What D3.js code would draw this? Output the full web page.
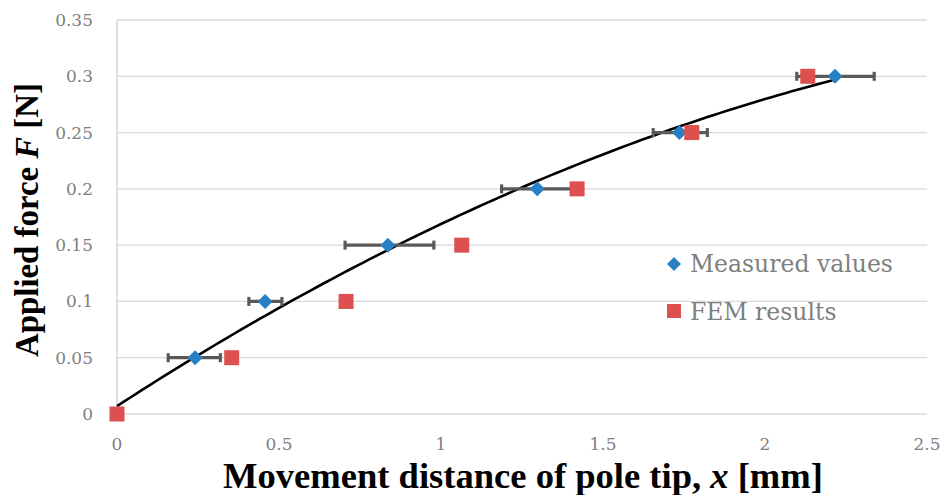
<!DOCTYPE html>
<html><head><meta charset="utf-8">
<script src="https://cdn.jsdelivr.net/npm/d3@7"></script>
<style>body{margin:0;background:#fff}svg{display:block}</style>
</head><body>
<svg id="c" width="943" height="495"></svg>
<script>
// ---- data ----
const measuredX = [0.241, 0.457, 0.836, 1.297, 1.736, 2.216];
const measuredY = [0.05, 0.10, 0.15, 0.20, 0.25, 0.30];
const errLow    = [0.158, 0.407, 0.704, 1.187, 1.655, 2.098];
const errHigh   = [0.319, 0.509, 0.978, 1.407, 1.822, 2.337];
const femX = [0, 0.354, 0.707, 1.064, 1.420, 1.774, 2.132];
const femY = [0, 0.05, 0.10, 0.15, 0.20, 0.25, 0.30];
const trendCoef = [0.007, 0.1871, -0.02536]; // polynomial trendline (order 2)
const xTicks = [0, 0.5, 1, 1.5, 2, 2.5];
const yTicks = [0, 0.05, 0.1, 0.15, 0.2, 0.25, 0.3, 0.35];
const legendLabels = ["Measured values", "FEM results"];

(function () {
const svg = d3.select("#c");
const mL = 117, mR = 927, mT = 20, mB = 414;
const x = d3.scaleLinear().domain([0, 2.5]).range([mL, mR]);
const y = d3.scaleLinear().domain([0, 0.35]).range([mB, mT]);
const serif = "'DejaVu Serif', 'Liberation Serif', serif";
const serifB = "'Liberation Serif', 'DejaVu Serif', serif";

// gridlines
svg.append("g").selectAll("line").data(yTicks).join("line")
  .attr("x1", mL).attr("x2", mR)
  .attr("y1", d => y(d)).attr("y2", d => y(d))
  .attr("stroke", "#d9d9d9").attr("stroke-width", 1.3);
// vertical axis line
svg.append("line").attr("x1", mL).attr("x2", mL).attr("y1", mT).attr("y2", mB)
  .attr("stroke", "#d0d0d0").attr("stroke-width", 1.3);

// y tick labels
svg.append("g").selectAll("text").data(yTicks).join("text")
  .attr("x", 93).attr("y", d => y(d)).attr("dy", "0.35em")
  .attr("text-anchor", "end").attr("font-family", serif).attr("font-size", 17)
  .attr("fill", "#808080").text(d => d === 0 ? "0" : String(d));
// x tick labels
svg.append("g").selectAll("text").data(xTicks).join("text")
  .attr("x", d => x(d)).attr("y", 450)
  .attr("text-anchor", "middle").attr("font-family", serif).attr("font-size", 17)
  .attr("fill", "#808080").text(d => String(d));

// fit helper
function fit(sel, w) {
  const cur = +sel.attr("font-size");
  const len = sel.node().getComputedTextLength();
  sel.attr("font-size", cur * w / len);
}

// axis titles
const xt = svg.append("text").attr("x", 523).attr("y", 488).attr("text-anchor", "middle")
  .attr("font-family", serifB).attr("font-weight", "bold").attr("font-size", 30).attr("fill", "#000");
xt.append("tspan").text("Movement distance of pole tip, ");
xt.append("tspan").attr("font-style", "italic").text("x");
xt.append("tspan").text(" [mm]");
fit(xt, 600);

const yt = svg.append("text").attr("transform", "translate(38,220) rotate(-90)").attr("text-anchor", "middle")
  .attr("font-family", serifB).attr("font-weight", "bold").attr("font-size", 28).attr("fill", "#000");
yt.append("tspan").text("Applied force ");
yt.append("tspan").attr("font-style", "italic").text("F");
yt.append("tspan").text(" [N]");
fit(yt, 274);

// trendline
const line = d3.line().x(d => x(d)).y(d => y(trendCoef[0] + trendCoef[1]*d + trendCoef[2]*d*d));
svg.append("path").datum(d3.range(0, 2.2161, 0.02).concat([2.216]))
  .attr("d", line).attr("fill", "none").attr("stroke", "#000").attr("stroke-width", 2.6);

// error bars
const eb = svg.append("g").attr("stroke", "#595959").attr("stroke-width", 3.2);
measuredY.forEach((v, i) => {
  eb.append("line").attr("x1", x(errLow[i])).attr("x2", x(errHigh[i])).attr("y1", y(v)).attr("y2", y(v));
  eb.append("line").attr("x1", x(errLow[i])).attr("x2", x(errLow[i])).attr("y1", y(v) - 4.5).attr("y2", y(v) + 4.5);
  eb.append("line").attr("x1", x(errHigh[i])).attr("x2", x(errHigh[i])).attr("y1", y(v) - 4.5).attr("y2", y(v) + 4.5);
});

// measured (diamonds)
const diamond = s => `M0,${-s}L${s},0L0,${s}L${-s},0Z`;
svg.append("g").selectAll("path").data(measuredX.map((d, i) => [d, measuredY[i]])).join("path")
  .attr("d", diamond(7.5)).attr("transform", d => `translate(${x(d[0])},${y(d[1])})`)
  .attr("fill", "#2680c3");
// FEM (squares)
svg.append("g").selectAll("rect").data(femX.map((d, i) => [d, femY[i]])).join("rect")
  .attr("x", d => x(d[0]) - 7.5).attr("y", d => y(d[1]) - 7.5).attr("width", 15).attr("height", 15)
  .attr("fill", "#de4f4f");

// legend
const lg = svg.append("g");
lg.append("path").attr("d", diamond(7)).attr("transform", "translate(674,264)").attr("fill", "#2680c3");
lg.append("rect").attr("x", 667).attr("y", 304).attr("width", 14).attr("height", 14).attr("fill", "#de4f4f");
const l1 = lg.append("text").attr("x", 690).attr("y", 272).attr("font-family", serif).attr("font-size", 22)
  .attr("fill", "#7f7f7f").text(legendLabels[0]);
fit(l1, 203);
lg.append("text").attr("x", 690).attr("y", 320).attr("font-family", serif)
  .attr("font-size", +l1.attr("font-size")).attr("fill", "#7f7f7f").text(legendLabels[1]);
})();
</script>
</body></html>
